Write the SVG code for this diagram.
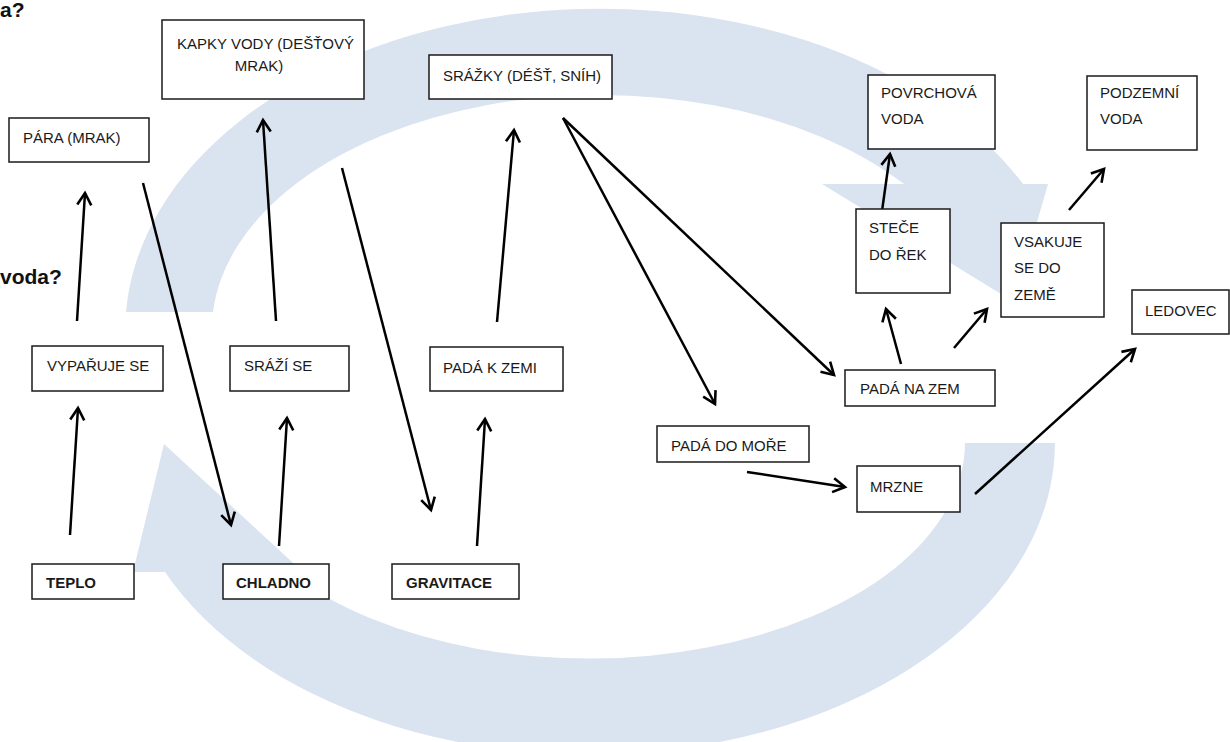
<svg xmlns="http://www.w3.org/2000/svg" width="1230" height="742" viewBox="0 0 1230 742">
<defs>
<style>
.bg{fill:#dae3f0;stroke:none}
.box{fill:#fff;stroke:#1a1a1a;stroke-width:1.5}
.t{font-family:"Liberation Sans",Arial,sans-serif;font-size:15px;fill:#1a1a1a}
.b{font-weight:bold}
.h{font-family:"Liberation Sans",Arial,sans-serif;font-size:21px;font-weight:bold;fill:#111}
.c{fill:none;stroke:#000;stroke-width:2.5;marker-end:url(#ah)}
</style>
<marker id="ah" markerUnits="userSpaceOnUse" markerWidth="30" markerHeight="30" viewBox="-15 -15 30 30" refX="0" refY="0" orient="auto" overflow="visible">
<path d="M-12,-7 L0,0 L-12,7" fill="none" stroke="#000" stroke-width="2.6"/>
</marker>
</defs>
<rect width="1230" height="742" fill="#fff"/>
<g id="cycle">
<path class="bg" d="M126,312 A475,322 0 0 1 1023,184 L1048,184 L1014,302 L822,184 L904,184 A388,235 0 0 0 213,312 Z"/>
<path class="bg" d="M1055,443 A466,312 0 0 1 165,572 L133,572 L164,444 L303,572 L288,572 A376,216 0 0 0 965,443 Z"/>
</g>
<text class="h" x="0" y="17">a?</text>
<text class="h" x="0" y="284">voda?</text>
<g id="connectors">
<line class="c" x1="70" y1="535" x2="78" y2="408"/>
<line class="c" x1="77" y1="321" x2="85" y2="193"/>
<line class="c" x1="143" y1="183" x2="231" y2="525"/>
<line class="c" x1="279" y1="546" x2="287" y2="418"/>
<line class="c" x1="276" y1="321" x2="263" y2="120"/>
<line class="c" x1="342" y1="168" x2="431" y2="510"/>
<line class="c" x1="477" y1="546" x2="485" y2="419"/>
<line class="c" x1="497" y1="322" x2="514" y2="130"/>
<line class="c" x1="563" y1="118" x2="715" y2="404"/>
<line class="c" x1="563" y1="118" x2="834" y2="375"/>
<line class="c" x1="901" y1="364" x2="886" y2="309"/>
<line class="c" x1="954" y1="348" x2="987" y2="309"/>
<line class="c" x1="882" y1="211" x2="890" y2="154"/>
<line class="c" x1="1069" y1="210" x2="1104" y2="169"/>
<line class="c" x1="747" y1="472" x2="845" y2="487"/>
<line class="c" x1="975" y1="494" x2="1135" y2="349"/>
</g>
<g id="para"><rect class="box" x="9" y="118" width="140" height="44"/><text class="t" x="23" y="143">PÁRA (MRAK)</text></g>
<g id="kapky"><rect class="box" x="162" y="20" width="202" height="79"/><text class="t" x="177" y="49">KAPKY VODY (DEŠŤOVÝ</text><text class="t" x="259" y="71" text-anchor="middle">MRAK)</text></g>
<g id="srazky"><rect class="box" x="429" y="55" width="183" height="44"/><text class="t" x="443" y="81">SRÁŽKY (DÉŠŤ, SNÍH)</text></g>
<g id="povrchova"><rect class="box" x="868" y="75" width="127" height="74"/><text class="t" x="881" y="98">POVRCHOVÁ</text><text class="t" x="881" y="124">VODA</text></g>
<g id="podzemni"><rect class="box" x="1087" y="76" width="110" height="74"/><text class="t" x="1100" y="98">PODZEMNÍ</text><text class="t" x="1100" y="124">VODA</text></g>
<g id="stece"><rect class="box" x="856" y="209" width="94" height="84"/><text class="t" x="869" y="233">STEČE</text><text class="t" x="869" y="260">DO ŘEK</text></g>
<g id="vsakuje"><rect class="box" x="1001" y="223" width="103" height="94"/><text class="t" x="1014" y="247">VSAKUJE</text><text class="t" x="1014" y="273">SE DO</text><text class="t" x="1014" y="300">ZEMĚ</text></g>
<g id="ledovec"><rect class="box" x="1132" y="290" width="97" height="44"/><text class="t" x="1145" y="316">LEDOVEC</text></g>
<g id="vyparuje"><rect class="box" x="32" y="346" width="131" height="45"/><text class="t" x="47" y="371">VYPAŘUJE SE</text></g>
<g id="srazi"><rect class="box" x="230" y="346" width="119" height="45"/><text class="t" x="244" y="371">SRÁŽÍ SE</text></g>
<g id="padakzemi"><rect class="box" x="430" y="347" width="133" height="44"/><text class="t" x="443" y="373">PADÁ K ZEMI</text></g>
<g id="padanazem"><rect class="box" x="845" y="370" width="150" height="36"/><text class="t" x="860" y="394">PADÁ NA ZEM</text></g>
<g id="padadomore"><rect class="box" x="657" y="426" width="152" height="36"/><text class="t" x="671" y="451">PADÁ DO MOŘE</text></g>
<g id="mrzne"><rect class="box" x="857" y="466" width="103" height="46"/><text class="t" x="870" y="492">MRZNE</text></g>
<g id="teplo"><rect class="box" x="32" y="564" width="102" height="35"/><text class="t b" x="46" y="588">TEPLO</text></g>
<g id="chladno"><rect class="box" x="223" y="564" width="106" height="35"/><text class="t b" x="236" y="588">CHLADNO</text></g>
<g id="gravitace"><rect class="box" x="392" y="564" width="127" height="35"/><text class="t b" x="406" y="588">GRAVITACE</text></g>
</svg>
